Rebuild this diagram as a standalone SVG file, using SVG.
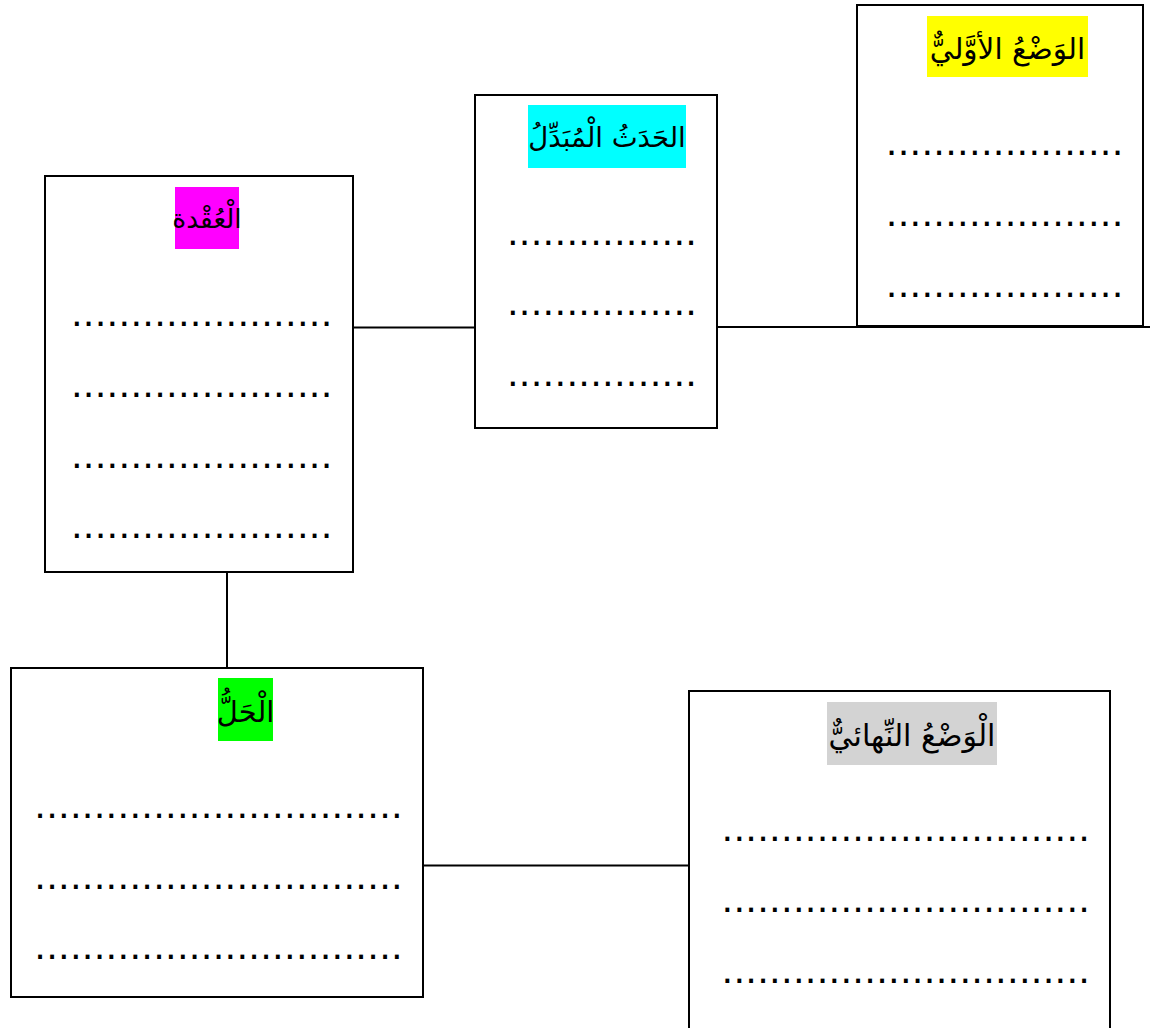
<svg xmlns="http://www.w3.org/2000/svg" width="1152" height="1028" viewBox="0 0 1152 1028">
<style>
.box{fill:#fff;stroke:#000;stroke-width:2}
.con{stroke:#000;stroke-width:2;fill:none}
.title{font-family:"DejaVu Sans","Liberation Sans",sans-serif;font-size:29px;fill:#000;text-anchor:middle}
.dots{font-family:"Liberation Sans",Arial,sans-serif;font-size:40px;letter-spacing:0.78px;fill:#000}
</style>
<rect width="1152" height="1028" fill="#fff"/>
<g id="connectors">
<line class="con" x1="717" y1="327" x2="1150" y2="327"/>
<line class="con" x1="353" y1="327.5" x2="475" y2="327.5"/>
<line class="con" x1="227" y1="572" x2="227" y2="668"/>
<line class="con" x1="423" y1="865.5" x2="689" y2="865.5"/>
</g>
<g id="node-initial">
<rect class="box" x="857" y="5" width="286" height="321"/>
<rect x="927" y="16" width="161" height="61" fill="#ffff00"/>
<text class="title" x="1007.5" y="59" style="font-size:29.5px">الوَضْعُ الأوَّليٌّ</text>
<text class="dots" x="886" y="154.7">....................</text>
<text class="dots" x="886" y="226">....................</text>
<text class="dots" x="886" y="297">....................</text>
</g>
<g id="node-trigger">
<rect class="box" x="475" y="95" width="242" height="333"/>
<rect x="528" y="105" width="158" height="63" fill="#00ffff"/>
<text class="title" x="607" y="147" style="font-size:27.5px">الحَدَثُ الْمُبَدِّلُ</text>
<text class="dots" x="507.2" y="244.7">................</text>
<text class="dots" x="507.2" y="314.7">................</text>
<text class="dots" x="507.2" y="386">................</text>
</g>
<g id="node-knot">
<rect class="box" x="45" y="176" width="308" height="396"/>
<rect x="175" y="187" width="64" height="62" fill="#ff00ff"/>
<text class="title" x="207" y="228" style="font-size:26.5px">الْعُقْدة</text>
<text class="dots" x="71.2" y="326.3">......................</text>
<text class="dots" x="71.2" y="397">......................</text>
<text class="dots" x="71.2" y="467.7">......................</text>
<text class="dots" x="71.2" y="538.4">......................</text>
</g>
<g id="node-resolution">
<rect class="box" x="11" y="668" width="412" height="329"/>
<rect x="218" y="678" width="55" height="63" fill="#00ff00"/>
<text class="title" x="245.5" y="722">الْحَلُّ</text>
<text class="dots" x="34.5" y="817.7">...............................</text>
<text class="dots" x="34.5" y="888.5">...............................</text>
<text class="dots" x="34.5" y="959">...............................</text>
</g>
<g id="node-final">
<rect class="box" x="689" y="691" width="421" height="345"/>
<rect x="827" y="702" width="170" height="63" fill="#d3d3d3"/>
<text class="title" x="912" y="746" style="font-size:30px">الْوَضْعُ النِّهائيٌّ</text>
<text class="dots" x="721.8" y="841.3">...............................</text>
<text class="dots" x="721.8" y="912">...............................</text>
<text class="dots" x="721.8" y="983">...............................</text>
</g>
</svg>
